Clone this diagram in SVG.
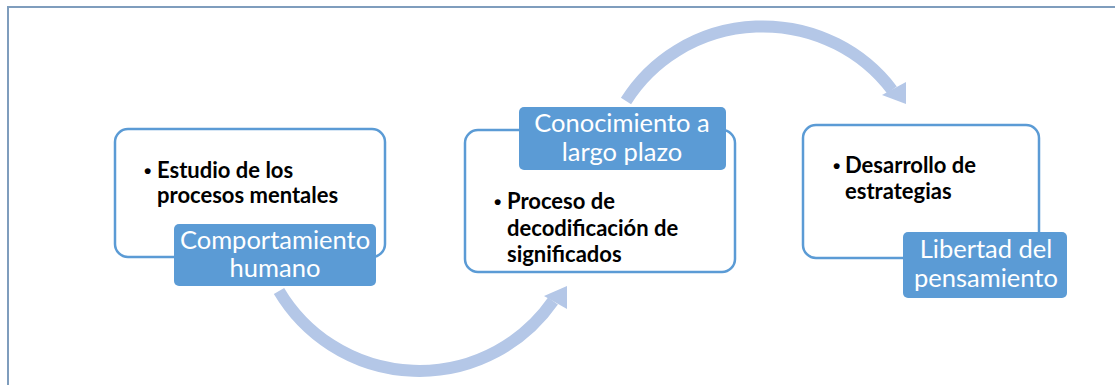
<svg xmlns="http://www.w3.org/2000/svg" width="1115" height="385" viewBox="0 0 1115 385">
<style>
.frame{stroke:#7f9dbd;stroke-width:2;fill:none}
.box{fill:#fff;stroke:#5b9bd5;stroke-width:2.5}
.lab{fill:#5b9bd5}
.lt{font-family:Lato,"Open Sans",sans-serif;font-size:25.5px;fill:#fff;text-anchor:middle}
.bt{font-family:Lato,"Open Sans",sans-serif;font-size:22px;font-weight:bold;fill:#000}
.bl{font-family:"Liberation Sans",sans-serif;font-size:21px;font-weight:bold;fill:#000}
.arc{fill:none;stroke:#b4c7e7;stroke-width:12}
.head{fill:#b4c7e7}
</style>
<rect width="1115" height="385" fill="#fff"/>
<path class="frame" d="M8 385 V7 H1115"/>
<g id="connectors">
<path class="arc" d="M279 291 A163 163 0 0 0 553 301"/>
<polygon class="head" points="544,296 567,286 567,309"/>
<path class="arc" d="M626 101 A160 155 0 0 1 892 90"/>
<polygon class="head" points="882,95 906,82 906,104"/>
</g>
<g id="node1">
<rect class="box" x="115" y="129" width="270" height="128" rx="13"/>
<text class="bl" x="144" y="178">•</text>
<text class="bt" x="157" y="178">Estudio de los</text>
<text class="bt" x="157" y="203">procesos mentales</text>
<rect class="lab" x="174" y="224" width="202" height="62" rx="5"/>
<text class="lt" x="275" y="249">Comportamiento</text>
<text class="lt" x="275" y="277">humano</text>
</g>
<g id="node2">
<rect class="box" x="465" y="130" width="270" height="142" rx="13"/>
<rect class="lab" x="519" y="107" width="207" height="63" rx="5"/>
<text class="lt" x="622" y="132">Conocimiento a</text>
<text class="lt" x="622" y="161">largo plazo</text>
<text class="bl" x="494" y="209">•</text>
<text class="bt" x="507" y="209">Proceso de</text>
<text class="bt" x="507" y="236">decodificación de</text>
<text class="bt" x="507" y="262">significados</text>
</g>
<g id="node3">
<rect class="box" x="803" y="125" width="236" height="133" rx="13"/>
<text class="bl" x="833" y="173">•</text>
<text class="bt" x="845" y="173">Desarrollo de</text>
<text class="bt" x="845" y="199">estrategias</text>
<rect class="lab" x="903" y="232" width="164" height="66" rx="5"/>
<text class="lt" x="986" y="258">Libertad del</text>
<text class="lt" x="986" y="287">pensamiento</text>
</g>
</svg>
